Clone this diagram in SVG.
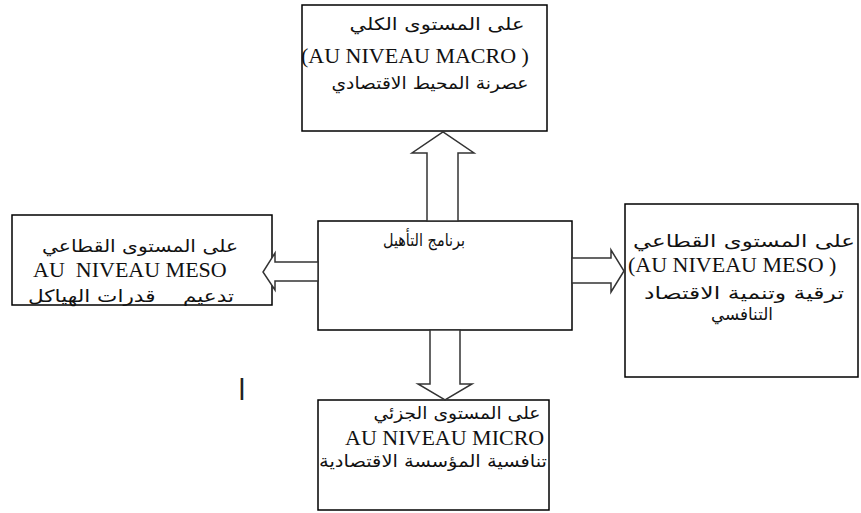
<svg xmlns="http://www.w3.org/2000/svg" width="861" height="513" viewBox="0 0 861 513">
<style>
.box{fill:#fff;stroke:#000;stroke-width:1.5}
.arr{fill:#fff;stroke:#333;stroke-width:1.5;stroke-linejoin:miter}
.ar{font-family:'DejaVu Sans',sans-serif;font-size:17px;fill:#111;text-anchor:middle}
.la{font-family:'Liberation Serif','Times New Roman',serif;font-size:22px;fill:#111}
</style>
<rect width="861" height="513" fill="#fff"/>
<g id="top">
<rect class="box" x="302" y="5" width="245" height="126"/>
<text class="ar" x="437" y="30" direction="rtl" textLength="175" lengthAdjust="spacingAndGlyphs">على المستوى الكلي</text>
<text class="la" x="301" y="63" xml:space="preserve">(AU NIVEAU MACRO )</text>
<text class="ar" x="430" y="89" direction="rtl" textLength="197" lengthAdjust="spacingAndGlyphs">عصرنة المحيط الاقتصادي</text>
</g>
<g id="left">
<rect class="box" x="12" y="215" width="260" height="90"/>
<text class="ar" x="140" y="252" direction="rtl" textLength="196" lengthAdjust="spacingAndGlyphs">على المستوى القطاعي</text>
<text class="la" x="33" y="277" xml:space="preserve">AU  NIVEAU MESO</text>
<text class="ar" x="131" y="302" direction="rtl" xml:space="preserve" textLength="206" lengthAdjust="spacingAndGlyphs">تدعيم    قدرات الهياكل</text>
</g>
<g id="center">
<rect class="box" x="318" y="221" width="254" height="109"/>
<text class="ar" x="424" y="246" direction="rtl" textLength="82" lengthAdjust="spacingAndGlyphs">برنامج التأهيل</text>
</g>
<g id="right">
<rect class="box" x="625" y="204" width="233" height="173"/>
<text class="ar" x="744" y="247" direction="rtl" textLength="222" lengthAdjust="spacingAndGlyphs">على المستوى القطاعي</text>
<text class="la" x="628" y="272" xml:space="preserve">(AU NIVEAU MESO )</text>
<text class="ar" x="744" y="299" direction="rtl" textLength="200" lengthAdjust="spacingAndGlyphs">ترقية وتنمية الاقتصاد</text>
<text class="ar" x="742" y="320" direction="rtl" textLength="62" lengthAdjust="spacingAndGlyphs">التنافسي</text>
</g>
<g id="bottom">
<rect class="box" x="318" y="400" width="231" height="110"/>
<text class="ar" x="457" y="419" direction="rtl" textLength="167" lengthAdjust="spacingAndGlyphs">على المستوى الجزئي</text>
<text class="la" x="345" y="445">AU NIVEAU MICRO</text>
<text class="ar" x="433" y="467" direction="rtl" textLength="228" lengthAdjust="spacingAndGlyphs">تنافسية المؤسسة الاقتصادية</text>
</g>
<g id="connectors">
<polygon class="arr" points="427,221 427,153 412,153 443,132 474,153 458,153 458,221"/>
<polygon class="arr" points="318,262 275,262 275,253 263,272 275,290 275,281 318,281"/>
<polygon class="arr" points="572,258 611,258 611,250 624,271 611,292 611,283 572,283"/>
<polygon class="arr" points="430,330 430,384 418,384 445,400 472,384 460,384 460,330"/>
</g>
<text x="238" y="400" font-family="DejaVu Sans, sans-serif" font-size="28" fill="#222">l</text>
</svg>
